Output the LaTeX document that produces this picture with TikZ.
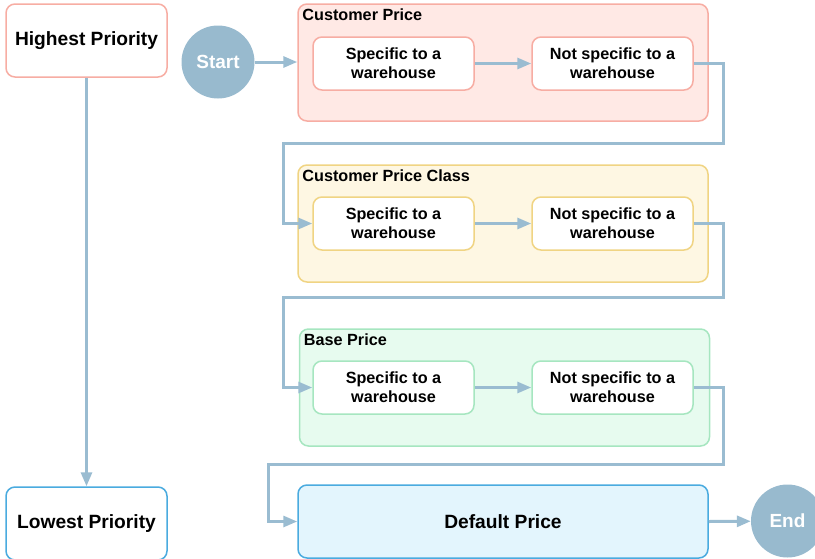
\documentclass[tikz,border=0pt]{standalone}
\usepackage{fontspec}
\setmainfont{Liberation Sans}
\usetikzlibrary{arrows.meta}

\definecolor{redline}{HTML}{F7ADA3}
\definecolor{redfill}{HTML}{FFE9E5}
\definecolor{yelline}{HTML}{F0D483}
\definecolor{yelfill}{HTML}{FEF7E3}
\definecolor{grnline}{HTML}{A6E6C0}
\definecolor{grnfill}{HTML}{E7FBEF}
\definecolor{bluline}{HTML}{4AABDF}
\definecolor{blufill}{HTML}{E3F5FD}
\definecolor{flowcol}{HTML}{9ABCD1}
\definecolor{termcol}{HTML}{98BACE}

\tikzset{
  flow/.style={draw=flowcol,line width=3pt,-{Triangle[length=14pt,width=11pt]}},
  prio/.style={rectangle,rounded corners=9pt,line width=1.5pt,fill=white,
    minimum width=161pt,minimum height=73pt,
    font=\bfseries\fontsize{19.2}{22}\selectfont},
  group/.style={rectangle,rounded corners=9pt,line width=1.5pt,
    minimum width=410pt,minimum height=117pt},
  choice/.style={rectangle,rounded corners=9pt,line width=1.5pt,fill=white,
    minimum width=161pt,minimum height=53pt,align=center,
    font=\bfseries\fontsize{16.2}{19}\selectfont},
  grouptitle/.style={anchor=north west,inner sep=0pt,
    font=\bfseries\fontsize{16.2}{19}\selectfont},
  term/.style={circle,fill=termcol,text=white,minimum size=73pt,inner sep=0pt,
    font=\bfseries\fontsize{19}{22}\selectfont}
}

\begin{document}
\begin{tikzpicture}[x=1pt,y=-1pt]
  \useasboundingbox (0,0) rectangle (815,558);

  % priority scale
  \node[prio,draw=redline] (hi) at (86.5,40.5) {Highest Priority};
  \node[prio,draw=bluline] (lo) at (86.5,523.5) {Lowest Priority};
  \path[flow] (hi) -- (lo);

  % price groups
  \node[group,draw=redline,fill=redfill] (cp) at (503,62.5) {};
  \node[group,draw=yelline,fill=yelfill] (cpc) at (503,223.5) {};
  \node[group,draw=grnline,fill=grnfill] (bp) at (504.5,387.5) {};
  \node[grouptitle] at ([shift={(5,5)}]cp.north west) {Customer Price};
  \node[grouptitle] at ([shift={(5,5)}]cpc.north west) {Customer Price Class};
  \node[grouptitle] at ([shift={(5,5)}]bp.north west) {Base Price};

  \node[choice,draw=redline] (cps) at (393.5,63.5) {Specific to a\\warehouse};
  \node[choice,draw=redline] (cpn) at (612.5,63.5) {Not specific to a\\warehouse};
  \node[choice,draw=yelline] (cpcs) at (393.5,223.5) {Specific to a\\warehouse};
  \node[choice,draw=yelline] (cpcn) at (612.5,223.5) {Not specific to a\\warehouse};
  \node[choice,draw=grnline] (bps) at (393.5,387.5) {Specific to a\\warehouse};
  \node[choice,draw=grnline] (bpn) at (612.5,387.5) {Not specific to a\\warehouse};

  \node[prio,draw=bluline,fill=blufill,minimum width=410pt] (dp) at (503,521.5) {Default Price};

  \node[term] (start) at (218,62) {Start};
  \node[term] (end) at (787.5,521) {End};

  % return paths between groups
  \coordinate (r1a) at (723,143);
  \coordinate (r1b) at (283,143);
  \coordinate (r2a) at (723,297);
  \coordinate (r2b) at (283,297);
  \coordinate (r3a) at (723,464);
  \coordinate (r3b) at (268,464);

  \path[flow] (start) -- (start -| cp.west);
  \path[flow] (cps) -- (cpn);
  \path[flow] (cpcs) -- (cpcn);
  \path[flow] (bps) -- (bpn);
  \path[flow] (cpn.east) -| (r1a) -- (r1b) |- (cpcs.west);
  \path[flow] (cpcn.east) -| (r2a) -- (r2b) |- (bps.west);
  \path[flow] (bpn.east) -| (r3a) -- (r3b) |- (dp.west);
  \path[flow] (dp.east) -- (end);
\end{tikzpicture}
\end{document}
